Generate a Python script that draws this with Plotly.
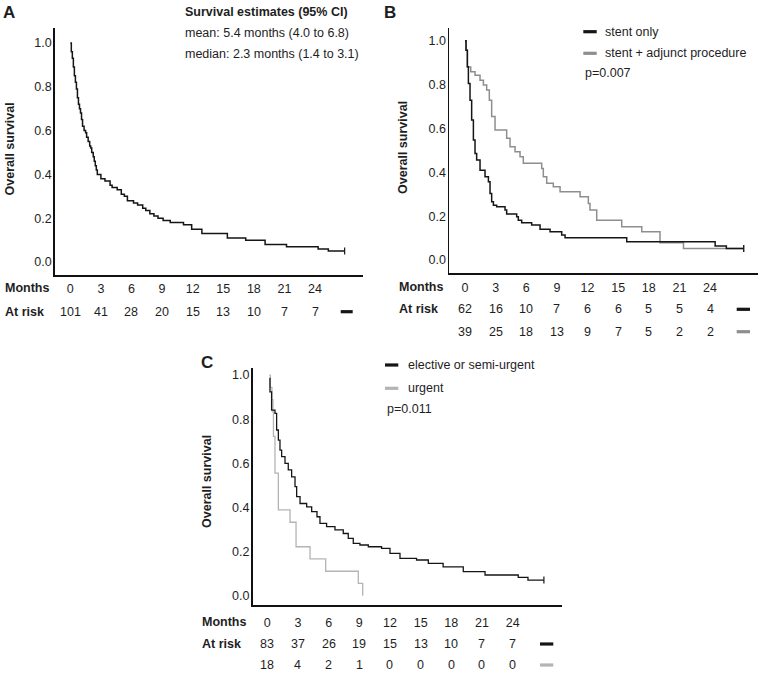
import plotly.graph_objects as go

W, H = 760, 673

# ---------------- data ----------------
months_ticks = [0, 3, 6, 9, 12, 15, 18, 21, 24]
surv_ticks = [0.0, 0.2, 0.4, 0.6, 0.8, 1.0]

# Panel A: all patients
a_t = [0, 0.1, 0.2, 0.3, 0.4, 0.5, 0.6, 0.7, 0.8, 0.9, 1.0, 1.1, 1.2, 1.35, 1.5, 1.6,
       1.75, 1.9, 2.0, 2.1, 2.25, 2.35, 2.45, 2.55, 2.65, 3.0, 3.4, 3.9, 4.1, 4.6, 5.0,
       5.3, 5.6, 6.2, 6.6, 7.1, 7.4, 7.8, 8.2, 8.6, 9.1, 9.8, 11.1, 11.9, 12.9, 15.4,
       17.2, 19.1, 21.2, 24.3, 25.3, 26.9]
a_s = [1.0, 0.96, 0.93, 0.89, 0.85, 0.82, 0.79, 0.75, 0.72, 0.70, 0.68, 0.65, 0.62, 0.60,
       0.59, 0.57, 0.55, 0.53, 0.52, 0.50, 0.48, 0.46, 0.44, 0.42, 0.40, 0.38, 0.37, 0.35,
       0.34, 0.33, 0.31, 0.30, 0.28, 0.27, 0.26, 0.245, 0.235, 0.22, 0.21, 0.20, 0.19, 0.18,
       0.17, 0.15, 0.13, 0.11, 0.10, 0.08, 0.07, 0.06, 0.05, 0.05]
a_risk = [101, 41, 28, 20, 15, 13, 10, 7, 7]

# Panel B: stent only vs stent + adjunct procedure
b1_t = [0, 0.1, 0.23, 0.33, 0.49, 0.65, 0.82, 0.98, 1.14, 1.47, 1.96, 2.29, 2.45, 2.61,
        2.78, 3.10, 3.92, 4.08, 5.06, 5.22, 5.55, 6.53, 7.35, 8.33, 9.47, 9.80, 15.84,
        24.5, 25.6, 27.3]
b1_s = [1.0, 0.957, 0.881, 0.805, 0.729, 0.638, 0.547, 0.486, 0.456, 0.41, 0.38, 0.357,
        0.304, 0.266, 0.25, 0.243, 0.228, 0.21, 0.198, 0.182, 0.17, 0.16, 0.14, 0.129,
        0.114, 0.102, 0.084, 0.064, 0.053, 0.053]
b1_risk = [62, 16, 10, 7, 6, 6, 5, 5, 4]

b2_t = [0, 0.1, 0.23, 0.56, 0.98, 1.47, 1.80, 2.12, 2.38, 2.61, 2.94, 4.08, 4.41, 4.90,
        5.39, 5.71, 7.51, 7.67, 8.0, 8.65, 9.31, 11.27, 12.08, 12.24, 12.9, 15.35, 17.31,
        19.1, 21.4, 27.3]
b2_s = [1.0, 0.957, 0.88, 0.859, 0.843, 0.82, 0.798, 0.775, 0.729, 0.654, 0.593, 0.555,
        0.517, 0.494, 0.471, 0.441, 0.418, 0.38, 0.35, 0.334, 0.312, 0.289, 0.258, 0.228,
        0.182, 0.152, 0.129, 0.079, 0.053, 0.053]
b2_risk = [39, 25, 18, 13, 9, 7, 5, 2, 2]

# Panel C: elective/semi-urgent vs urgent
c1_t = [0.2, 0.26, 0.42, 0.75, 0.91, 1.08, 1.24, 1.40, 1.73, 2.05, 2.38, 2.71, 2.87, 3.20,
        3.85, 4.34, 4.86, 5.15, 5.80, 6.62, 7.43, 7.92, 8.41, 9.06, 9.88, 11.18, 12.0,
        12.98, 14.6, 15.75, 17.2, 19.17, 21.3, 24.55, 25.5, 27.06]
c1_s = [0.985, 0.924, 0.841, 0.826, 0.751, 0.705, 0.66, 0.63, 0.60, 0.57, 0.539, 0.494,
        0.449, 0.418, 0.403, 0.381, 0.358, 0.328, 0.313, 0.298, 0.282, 0.26, 0.237, 0.23,
        0.222, 0.215, 0.192, 0.169, 0.162, 0.147, 0.131, 0.109, 0.094, 0.083, 0.071, 0.071]
c1_risk = [83, 37, 26, 19, 15, 13, 10, 7, 7]

c2_t = [0.2, 0.3, 0.45, 0.55, 0.6, 0.75, 1.08, 2.22, 2.81, 4.18, 5.71, 8.9, 9.33]
c2_s = [1.0, 0.944, 0.889, 0.833, 0.722, 0.556, 0.389, 0.333, 0.222, 0.167, 0.111, 0.056, 0.0]
c2_risk = [18, 4, 2, 1, 0, 0, 0, 0, 0]

# ---------------- styling ----------------
FONT = "Liberation Sans, Arial, Helvetica, sans-serif"
TXT = "#1e1e1e"
BLACK = "#151515"
GRAY_B = "#8e8e8e"
GRAY_C = "#b4b4b4"
FS = 12.5


def pxx(x):
    return x / W


def pyy(y):
    return 1 - y / H


fig = go.Figure()


def km(t, s, xa, ya, color, censor=True, width=1.5):
    fig.add_trace(go.Scatter(x=t, y=s, mode="lines", line=dict(color=color, width=width, shape="hv"),
                             xaxis=xa, yaxis=ya, showlegend=False, hoverinfo="skip"))
    if censor:
        fig.add_trace(go.Scatter(x=[t[-1]], y=[s[-1]], mode="markers",
                                 marker=dict(symbol="line-ns", size=5, line=dict(color=color, width=1.2)),
                                 xaxis=xa, yaxis=ya, showlegend=False, hoverinfo="skip"))


km(a_t, a_s, "x", "y", BLACK)
km(b2_t, b2_s, "x2", "y2", GRAY_B)
km(b1_t, b1_s, "x2", "y2", BLACK)
km(c2_t, c2_s, "x3", "y3", GRAY_C, censor=False, width=1.3)
km(c1_t, c1_s, "x3", "y3", BLACK, width=1.3)

# panel geometry (pixels): left, right, top, bottom, x-range, y-range, tick-standoff
panels = {
    "": dict(l=55, r=363, t=28, b=275, xr=[-1.5, 28.7], yr=[-0.059, 1.068], xs=1),
    "2": dict(l=449.3, r=758, t=28, b=273, xr=[-1.54, 28.7], yr=[-0.059, 1.058], xs=2),
    "3": dict(l=252.7, r=561.7, t=368, b=605, xr=[-1.43, 28.8], yr=[-0.042, 1.032], xs=5),
}

layout_axes = {}
for k, p in panels.items():
    layout_axes["xaxis" + k] = dict(
        domain=[pxx(p["l"]), pxx(p["r"])], range=p["xr"], anchor="y" + k,
        showline=True, linecolor="#111", linewidth=1.8, showgrid=False, zeroline=False,
        tickmode="array", tickvals=months_ticks, ticktext=[str(m) for m in months_ticks],
        ticks="", ticklabelstandoff=p["xs"],
        tickfont=dict(family=FONT, size=FS, color=TXT), fixedrange=True)
    layout_axes["yaxis" + k] = dict(
        domain=[pyy(p["b"]), pyy(p["t"])], range=p["yr"], anchor="x" + k,
        showline=True, linecolor="#111", linewidth=1.8, showgrid=False, zeroline=False,
        tickmode="array", tickvals=surv_ticks, ticktext=["%.1f" % v for v in surv_ticks],
        ticks="", ticklabelstandoff=-1,
        tickfont=dict(family=FONT, size=FS, color=TXT), fixedrange=True)

annotations = []
shapes = []


def txt(x, y, text, bold=False, size=FS, xanchor="left", xref="paper", angle=0, color=TXT):
    annotations.append(dict(
        x=pxx(x) if xref == "paper" else x, y=pyy(y), xref=xref, yref="paper",
        text=("<b>%s</b>" % text) if bold else text, showarrow=False,
        xanchor=xanchor, yanchor="middle", textangle=angle,
        font=dict(family=FONT, size=size, color=color)))


def dash(x0, x1, y, color):
    shapes.append(dict(type="line", xref="paper", yref="paper", x0=pxx(x0), x1=pxx(x1),
                       y0=pyy(y), y1=pyy(y), line=dict(color=color, width=3.2)))


# panel letters
txt(9, 12.5, "A", bold=True, size=17, xanchor="center")
txt(390, 12.5, "B", bold=True, size=17, xanchor="center")
txt(207, 362.5, "C", bold=True, size=17, xanchor="center")

# y axis titles
txt(9.5, 149, "Overall survival", bold=True, angle=-90, xanchor="center")
txt(403, 148, "Overall survival", bold=True, angle=-90, xanchor="center")
txt(207, 482, "Overall survival", bold=True, angle=-90, xanchor="center")

# Panel A texts
txt(182.7, 11.7, "Survival estimates (95% CI)", bold=True)
txt(182.7, 33.3, "mean: 5.4 months (4.0 to 6.8)")
txt(182.7, 54.3, "median: 2.3 months (1.4 to 3.1)")

# Panel B legend
dash(583.3, 596.7, 31.7, BLACK)
txt(602.7, 31.7, "stent only")
dash(583.3, 596.7, 53.3, GRAY_B)
txt(602.7, 53.3, "stent + adjunct procedure")
txt(583, 73.3, "p=0.007")

# Panel C legend
dash(385, 398.3, 365, BLACK)
txt(406, 365, "elective or semi-urgent")
dash(385, 398.3, 388.3, GRAY_C)
txt(406, 388.3, "urgent")
txt(385, 409.3, "p=0.011")

# Months / At risk labels
txt(3, 288, "Months", bold=True)
txt(3, 311.7, "At risk", bold=True)
txt(396.7, 287.3, "Months", bold=True)
txt(396.7, 309.3, "At risk", bold=True)
txt(200, 621.7, "Months", bold=True)
txt(200, 644, "At risk", bold=True)


def risk_row(vals, xref, y):
    for m, v in zip(months_ticks, vals):
        txt(m, y, str(v), xanchor="center", xref=xref)


risk_row(a_risk, "x", 311.7)
dash(340.7, 352.7, 311.7, BLACK)
risk_row(b1_risk, "x2", 309.3)
dash(736.7, 750, 309.3, BLACK)
risk_row(b2_risk, "x2", 331.7)
dash(736.7, 750, 331.7, GRAY_B)
risk_row(c1_risk, "x3", 644)
dash(540, 553.3, 644, BLACK)
risk_row(c2_risk, "x3", 665)
dash(540, 553.3, 665, GRAY_C)

fig.update_layout(
    width=W, height=H, margin=dict(l=0, r=0, t=0, b=0),
    paper_bgcolor="white", plot_bgcolor="white", showlegend=False,
    annotations=annotations, shapes=shapes, **layout_axes)

fig.write_html("out.html", config={"displayModeBar": False, "staticPlot": True},
               post_script="document.body.style.margin='0';document.body.style.overflow='hidden';")
